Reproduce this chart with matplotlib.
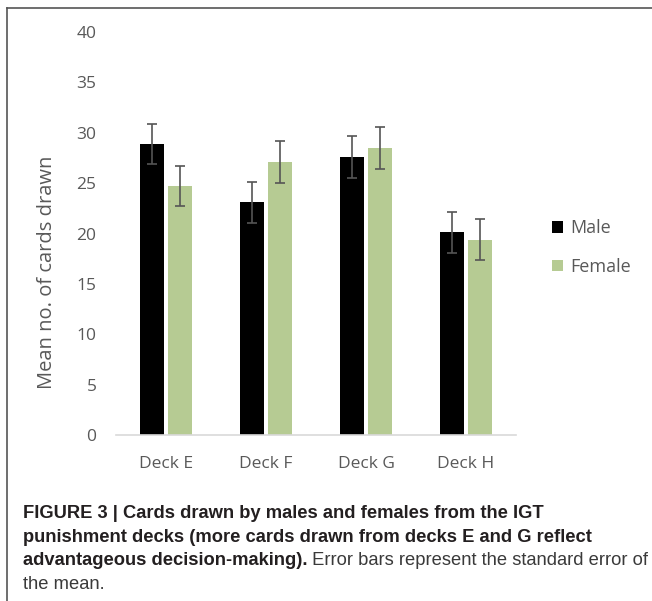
import matplotlib
matplotlib.use("Agg")
import matplotlib.pyplot as plt
from matplotlib.lines import Line2D
import numpy as np

# mean cards drawn per punishment deck, with standard errors
decks = ["Deck E", "Deck F", "Deck G", "Deck H"]
male = [28.9, 23.1, 27.6, 20.1]
female = [24.7, 27.1, 28.5, 19.4]
male_se = [2.0, 2.05, 2.05, 2.05]
female_se = [2.0, 2.05, 2.05, 2.05]
yticks = [0, 5, 10, 15, 20, 25, 30, 35, 40]

W, H = 652, 601
fig = plt.figure(figsize=(W / 100, H / 100), dpi=100)

chart_font = ["Open Sans", "DejaVu Sans"]
grey = "#595959"

# plot area in pixels: x 116..516, y 32..435
ax = fig.add_axes([116 / W, 1 - 435 / H, 400 / W, 403 / H])

x = np.arange(len(decks))
bw = 0.235
off = 0.142
err_kw = dict(ecolor="#555555", elinewidth=1.2, capsize=3.6, capthick=1.2)
ax.bar(x - off, male, bw, yerr=male_se, color="black", label="Male",
       error_kw=err_kw, zorder=2)
ax.bar(x + off, female, bw, yerr=female_se, color="#b6cb93", label="Female",
       error_kw=err_kw, zorder=2)

ax.set_xlim(-0.5, len(decks) - 0.5)
ax.set_ylim(0, 40)
ax.set_yticks(yticks)
ax.set_yticklabels([str(t) for t in yticks], family=chart_font,
                   fontsize=12.5, color=grey)
ax.set_xticks(x)
ax.set_xticklabels(decks, family=chart_font, fontsize=12.5, color=grey)
ax.tick_params(axis="y", length=0, pad=14)
ax.tick_params(axis="x", length=0, pad=15)

for s in ["top", "right", "left"]:
    ax.spines[s].set_visible(False)
ax.spines["bottom"].set_color("#d9d9d9")
ax.spines["bottom"].set_linewidth(1.2)

fig.text(47 / W, 1 - 272 / H, "Mean no. of cards drawn", rotation=90,
         ha="center", va="center", family=chart_font, fontsize=14.5,
         color=grey)

handles, labels = ax.get_legend_handles_labels()
leg = fig.legend(handles, labels, loc="center left",
                 bbox_to_anchor=(552 / W, 1 - 247.5 / H),
                 frameon=False, borderpad=0, borderaxespad=0,
                 handlelength=0.62, handleheight=0.62, handletextpad=0.4,
                 labelspacing=1.15, prop={"family": chart_font, "size": 13})
for t in leg.get_texts():
    t.set_color(grey)

# frame around the figure panel
fig.add_artist(Line2D([7 / W, 7 / W], [0, 1 - 8 / H], transform=fig.transFigure,
                      color="#555555", lw=1.2))
fig.add_artist(Line2D([7 / W, 1], [1 - 8 / H, 1 - 8 / H], transform=fig.transFigure,
                      color="#555555", lw=1.2))

# caption
cap_font = ["Liberation Sans Narrow", "Liberation Sans", "DejaVu Sans"]
cap_size = 13.2
x0 = 22.7 / W
bold_lines = [
    "FIGURE 3 | Cards drawn by males and females from the IGT",
    "punishment decks (more cards drawn from decks E and G reflect",
    "advantageous decision-making).",
]
base_y = [518.3, 541.7, 565.0, 589.0]
texts = []
for line, by in zip(bold_lines, base_y):
    texts.append(fig.text(x0, 1 - by / H, line, family=cap_font, weight="bold",
                          fontsize=cap_size, color="#231f20", va="baseline"))

renderer = fig.canvas.get_renderer()
ext = texts[2].get_window_extent(renderer)
fig.text(ext.x1 / W, 1 - base_y[2] / H, " Error bars represent the standard error of",
         family=cap_font, fontsize=cap_size, color="#3a3a3a", va="baseline")
fig.text(x0, 1 - base_y[3] / H, "the mean.", family=cap_font,
         fontsize=cap_size, color="#3a3a3a", va="baseline")

fig.savefig("out.png", dpi=100)
